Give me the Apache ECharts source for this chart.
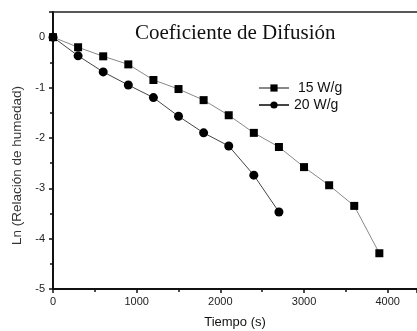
<!DOCTYPE html>
<html lang="es">
<head>
    <meta charset="UTF-8">
    <title>Coeficiente de Difusión</title>
    <script src="https://cdn.jsdelivr.net/npm/echarts@6/dist/echarts.min.js"></script>
    <style>
        html, body { margin: 0; padding: 0; background: #fff; }
        #chart { width: 417px; height: 331px; }
    </style>
</head>
<body>
    <div id="chart"></div>
    <script>
        // tiempo (s) y ln(relación de humedad)
        const tiempo15 = [0, 300, 600, 900, 1200, 1500, 1800, 2100, 2400, 2700, 3000, 3300, 3600, 3900];
        const ln15 = [0, -0.2, -0.38, -0.54, -0.85, -1.03, -1.25, -1.55, -1.9, -2.18, -2.58, -2.94, -3.35, -4.29];
        const tiempo20 = [0, 300, 600, 900, 1200, 1500, 1800, 2100, 2400, 2700];
        const ln20 = [0, -0.37, -0.69, -0.95, -1.2, -1.57, -1.9, -2.16, -2.74, -3.47];

        const pares = (xs, ys) => xs.map((x, i) => [x, ys[i]]);

        const chart = echarts.init(document.getElementById('chart'));
        const sans = 'Liberation Sans';
        const serif = 'Liberation Serif';

        chart.setOption({
            animation: false,
            title: {
                text: 'Coeficiente de Difusión',
                left: 130,
                top: 18,
                textStyle: { fontFamily: serif, fontSize: 21, fontWeight: 'normal', color: '#111' }
            },
            legend: {
                left: 253,
                top: 76,
                orient: 'vertical',
                itemGap: 3,
                itemWidth: 30,
                itemHeight: 9,
                textStyle: { fontFamily: sans, fontSize: 14, color: '#111' },
                data: ['15 W/g', '20 W/g'],
                formatter: n => n === '15 W/g' ? ' ' + n : n
            },
            grid: { left: 53, top: 12, right: 0, bottom: 42, outerBoundsMode: 'none' },
            xAxis: [{
                type: 'value',
                min: 0,
                max: 4350,
                interval: 1000,
                name: 'Tiempo (s)',
                nameLocation: 'middle',
                nameGap: 27,
                nameTextStyle: { fontFamily: sans, fontSize: 13, color: '#111' },
                axisLine: { onZero: false, lineStyle: { color: '#111', width: 2 } },
                axisTick: { length: 4, lineStyle: { color: '#111', width: 1.5 } },
                minorTick: { show: true, splitNumber: 2, length: 3, lineStyle: { color: '#111', width: 1.5 } },
                axisLabel: { fontFamily: sans, fontSize: 11, color: '#222', margin: 7, showMaxLabel: false, formatter: v => String(v) },
                splitLine: { show: false }
            }, {
                type: 'value',
                position: 'top',
                min: 0,
                max: 4350,
                axisLine: { show: true, onZero: false, lineStyle: { color: '#222', width: 1.5 } },
                axisTick: { show: false },
                axisLabel: { show: false },
                splitLine: { show: false }
            }],
            yAxis: {
                type: 'value',
                min: -5,
                max: 0.5,
                interval: 1,
                name: 'Ln (Relación de humedad)',
                nameLocation: 'middle',
                nameGap: 27,
                nameTextStyle: { fontFamily: sans, fontSize: 13.5, color: '#333', padding: [0, 30, 0, 0] },
                axisLine: { show: true, onZero: false, lineStyle: { color: '#111', width: 2 } },
                axisTick: { show: true, length: 4, lineStyle: { color: '#111', width: 1.5 } },
                minorTick: { show: true, splitNumber: 2, length: 3, lineStyle: { color: '#111', width: 1.5 } },
                axisLabel: { fontFamily: sans, fontSize: 11, color: '#222', margin: 8, showMaxLabel: false },
                splitLine: { show: false }
            },
            series: [{
                name: '15 W/g',
                type: 'line',
                data: pares(tiempo15, ln15),
                symbol: 'rect',
                symbolSize: 8,
                itemStyle: { color: '#000' },
                lineStyle: { color: '#888', width: 1 }
            }, {
                name: '20 W/g',
                type: 'line',
                data: pares(tiempo20, ln20),
                symbol: 'circle',
                symbolSize: 9,
                itemStyle: { color: '#000' },
                lineStyle: { color: '#444', width: 1 }
            }]
        });
    </script>
</body>
</html>
